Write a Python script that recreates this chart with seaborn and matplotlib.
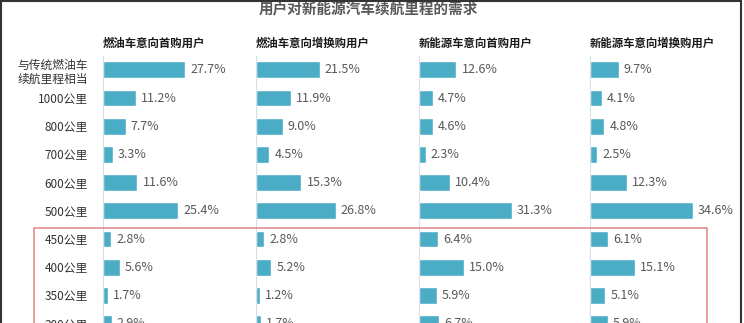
import matplotlib
matplotlib.use("Agg")
import matplotlib.pyplot as plt
import seaborn as sns
import pandas as pd
from matplotlib.patches import Rectangle

sns.set_theme(style="white")
plt.rcParams['font.family'] = ['Noto Sans CJK SC', 'DejaVu Sans']

title = "用户对新能源汽车续航里程的需求"
categories = ["与传统燃油车\n续航里程相当", "1000公里", "800公里", "700公里", "600公里",
              "500公里", "450公里", "400公里", "350公里", "300公里"]
panel_titles = ["燃油车意向首购用户", "燃油车意向增换购用户", "新能源车意向首购用户", "新能源车意向增换购用户"]
fuel_first = [27.7, 11.2, 7.7, 3.3, 11.6, 25.4, 2.8, 5.6, 1.7, 2.9]
fuel_replace = [21.5, 11.9, 9.0, 4.5, 15.3, 26.8, 2.8, 5.2, 1.2, 1.7]
nev_first = [12.6, 4.7, 4.6, 2.3, 10.4, 31.3, 6.4, 15.0, 5.9, 6.7]
nev_replace = [9.7, 4.1, 4.8, 2.5, 12.3, 34.6, 6.1, 15.1, 5.1, 5.9]
series = [fuel_first, fuel_replace, nev_first, nev_replace]

W, H = 744, 323
fig = plt.figure(figsize=(W / 100, H / 100), dpi=100)

bar_color = "#4bacc6"
px_per_pct = 2.97
lefts = [103, 256, 419, 590]
widths = [147, 156, 166, 154]
row0, step = 69.8, 28.2
top_px = row0 - 0.5 * step
bot_px = row0 + 9.5 * step

for i, (vals, pt) in enumerate(zip(series, panel_titles)):
    ax = fig.add_axes([lefts[i] / W, 1 - bot_px / H, widths[i] / W, (bot_px - top_px) / H])
    df = pd.DataFrame({"cat": categories, "val": vals})
    sns.barplot(data=df, x="val", y="cat", order=categories, color=bar_color,
                saturation=1, width=0.59, ax=ax, orient="h")
    ax.set_xlim(0, widths[i] / px_per_pct)
    ax.set_ylim(9.5, -0.5)
    ax.set_xlabel("")
    ax.set_ylabel("")
    ax.set_xticks([])
    for s in ["top", "right", "bottom"]:
        ax.spines[s].set_visible(False)
    ax.spines["left"].set_color("#d5e0e8")
    ax.spines["left"].set_linewidth(0.8)
    ax.patch.set_alpha(0)
    ax.tick_params(axis="y", length=0, pad=11)
    if i == 0:
        for lab in ax.get_yticklabels():
            lab.set_fontsize(8.5)
            lab.set_color("#333333")
            lab.set_linespacing(1.1)
    else:
        ax.set_yticklabels([])
    for cont in ax.containers:
        ax.bar_label(cont, labels=[f"{v:.1f}%" for v in vals], padding=3.6,
                     fontsize=9, color="#595959")
    fig.text(lefts[i] / W, 1 - 43.5 / H, pt, ha="left", va="center",
             fontsize=8.2, fontweight="bold", color="#1a1a1a")

fig.text(368 / W, 1 - 9 / H, title, ha="center", va="center",
         fontsize=10.5, fontweight="bold", color="#595959")

# highlight box
fig.patches.append(Rectangle((34 / W, -0.1), (707 - 34) / W, 0.1 + (1 - 228.3 / H),
                             transform=fig.transFigure, fill=False,
                             edgecolor="#e08585", linewidth=1.1))
# screenshot frame
fig.patches.append(Rectangle((1 / W, -0.1), (741 - 1) / W, 1.1 - 0.7 / H,
                             transform=fig.transFigure, fill=False,
                             edgecolor="#333333", linewidth=1.5))

fig.savefig("out.png", dpi=100)
